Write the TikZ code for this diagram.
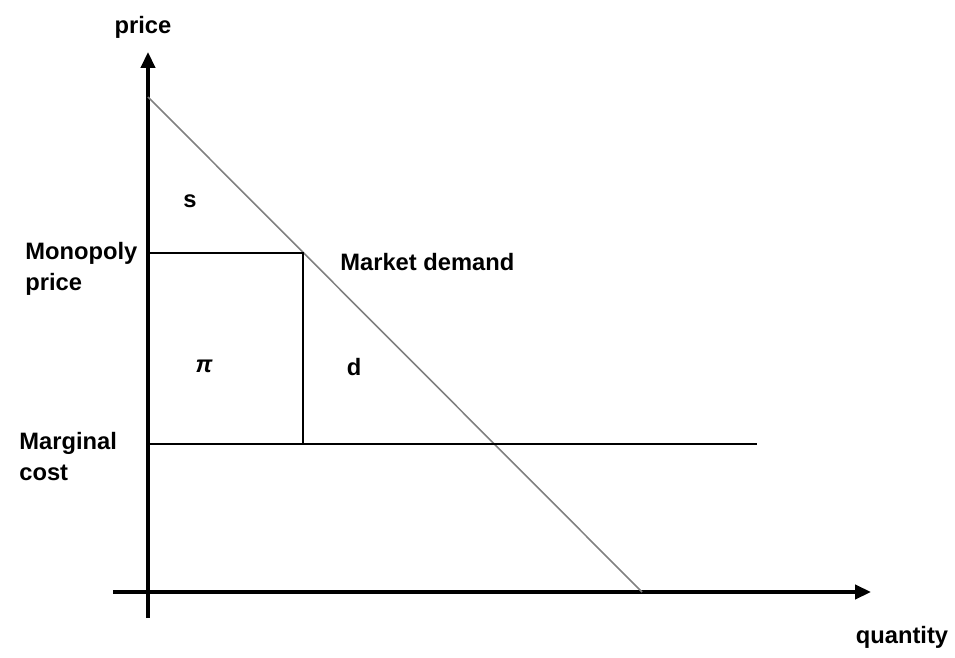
\documentclass[tikz,border=0pt]{standalone}
\usepackage{fontspec}
\setmainfont{Liberation Sans}
\usetikzlibrary{arrows.meta, positioning}

\begin{document}
\begin{tikzpicture}[
		x=0.02cm, y=-0.02cm,
		axis/.style={line width=1.9pt, -{Triangle[length=9pt, width=8pt]}},
		demand/.style={gray, line width=0.9pt},
		level/.style={black, line width=0.6pt},
		label/.style={font=\fontsize{13.5}{17.5}\selectfont\bfseries, inner sep=0pt},
		lefttext/.style={label, align=left, anchor=north west}
		]
		\useasboundingbox (0,0) rectangle (955,658);
		
		% Axes
		\coordinate (ybot) at (148,618);
		\coordinate (ytop) at (148,52);
		\coordinate (xleft) at (113,592);
		\coordinate (xright) at (871,592);
		\draw[axis] (ybot) -- (ytop);
		\draw[axis] (xleft) -- (xright);
		\node[label] (price) at (143,27) {price};
		\node[label] (quantity) at (902,637) {quantity};
		
		% Demande du marche
		\coordinate (dtop) at (148,97);
		\coordinate (dbot) at (642,592);
		\draw[demand] (dtop) -- (dbot);
		
		% Prix de monopole et cout marginal
		\coordinate (pm) at (148,253);
		\coordinate (mono) at (303,253);
		\coordinate (mc) at (148,444);
		\coordinate (qm) at (303,444);
		\coordinate (mcend) at (757,444);
		\draw[level] (pm) -- (mono) -- (qm);
		\draw[level] (mc) -- (mcend);
		
		% Textes
		\node[lefttext] (monoprice) at (25,242) {Monopoly\\price};
		\node[lefttext] (margcost) at (19,432) {Marginal\\cost};
		\node[label, anchor=west] (market) at (340,262) {Market demand};
		\node[label] (surplus) at (190,201) {s};
		\node[label] (profit) at (204,366) {\itshape π};
		\node[label] (dwl) at (354,367) {d};
		
	\end{tikzpicture}
\end{document}
